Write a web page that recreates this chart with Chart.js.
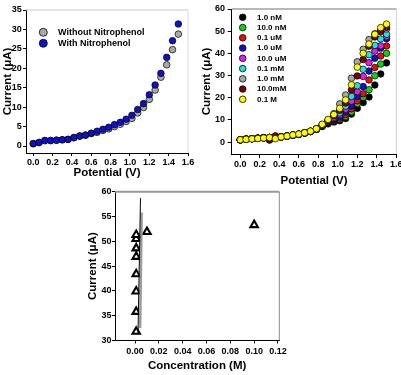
<!DOCTYPE html>
<html>
<head>
<meta charset="utf-8">
<script src="https://cdn.jsdelivr.net/npm/chart.js@4.4.1/dist/chart.umd.min.js"></script>
<style>
html, body { margin: 0; padding: 0; background: #fff; }
body { width: 401px; height: 375px; position: relative; overflow: hidden; }
canvas { position: absolute; }
</style>
</head>
<body>
<canvas id="chartPotential" width="200" height="185" style="left:0px;top:0px;width:200px;height:185px"></canvas>
<canvas id="chartConcCurves" width="201" height="190" style="left:200px;top:0px;width:201px;height:190px"></canvas>
<canvas id="chartCalibration" width="230" height="190" style="left:85px;top:185px;width:230px;height:190px"></canvas>
<script>
// ---- data ----
var potential = [0.00, 0.06, 0.12, 0.18, 0.24, 0.30, 0.36, 0.42, 0.48, 0.54, 0.60, 0.66, 0.72,
                 0.78, 0.84, 0.90, 0.96, 1.02, 1.08, 1.14, 1.20, 1.26, 1.32, 1.38, 1.44, 1.50];

var withoutNitrophenol = [0.6, 0.9, 1.4, 1.4, 1.5, 1.6, 1.7, 2.1, 2.5, 2.8, 3.2, 3.5, 4.0,
                          4.4, 5.0, 5.6, 6.3, 7.1, 8.5, 9.9, 12.0, 14.4, 17.7, 20.9, 24.8, 28.8];
var withNitrophenol = [0.6, 0.9, 1.4, 1.4, 1.5, 1.6, 1.7, 2.2, 2.6, 2.8, 3.3, 3.8, 4.3,
                       4.8, 5.5, 6.1, 6.9, 7.9, 9.4, 10.9, 13.2, 15.7, 18.7, 22.8, 27.1, 31.4];

var concLabels = ['1.0 nM', '10.0 nM', '0.1 uM', '1.0 uM', '10.0 uM', '0.1 mM', '1.0 mM', '10.0mM', '0.1 M'];
var concColors = ['#000000', '#10d010', '#e01010', '#1010c8', '#e020e0', '#20e0e0', '#a8a8a8', '#800000', '#ffff00'];

var cur_1nM   = [1.0, 1.3, 1.5, 1.7, 1.9, 2.0, 2.0, 2.3, 2.7, 3.1, 3.5, 4.1, 4.8, 5.8,
                 7.0, 8.2, 9.0, 9.6, 10.6, 12.6, 15.2, 17.8, 20.3, 25.7, 30.7, 35.7];
var cur_10nM  = [1.0, 1.3, 1.5, 1.7, 1.9, 2.0, 2.0, 2.3, 2.7, 3.1, 3.5, 4.1, 4.8, 5.8,
                 7.2, 8.6, 9.6, 10.3, 11.5, 13.6, 17.3, 20.2, 23.6, 29.9, 35.2, 40.0];
var cur_01uM  = [1.0, 1.3, 1.5, 1.7, 1.9, 0.9, 2.0, 2.3, 2.7, 3.1, 3.5, 4.1, 4.8, 5.8,
                 7.3, 8.8, 9.9, 10.9, 12.4, 15.0, 18.6, 21.8, 28.0, 33.6, 38.8, 43.3];
var cur_1uM   = [1.0, 1.3, 1.5, 1.7, 1.9, 2.0, 2.0, 2.3, 2.7, 3.1, 3.5, 4.1, 4.8, 5.8,
                 7.4, 9.0, 10.3, 11.6, 13.6, 16.3, 20.6, 25.0, 32.0, 37.8, 42.3, 46.6];
var cur_10uM  = [1.0, 1.3, 1.5, 1.7, 1.9, 2.0, 2.0, 2.3, 2.7, 3.1, 3.5, 4.1, 4.8, 5.8,
                 7.5, 9.2, 10.7, 12.4, 14.8, 18.4, 22.7, 29.6, 35.8, 41.0, 43.4, 47.5];
var cur_01mM  = [1.0, 1.3, 1.5, 1.7, 1.9, 2.0, 2.0, 2.3, 2.7, 3.1, 3.5, 4.1, 4.8, 5.8,
                 7.6, 9.4, 11.2, 13.2, 16.2, 20.6, 25.4, 32.8, 39.4, 43.6, 46.5, 48.6];
var cur_1mM   = [1.0, 1.3, 1.5, 1.7, 1.9, 2.0, 2.0, 2.3, 2.7, 3.1, 3.5, 4.1, 4.8, 5.9,
                 7.9, 10.0, 12.8, 17.2, 21.2, 28.8, 36.2, 41.8, 46.2, 48.8, 50.2, 51.0];
var cur_10mM  = [1.0, 1.3, 1.5, 1.7, 1.9, 1.0, 2.8, 2.3, 2.7, 3.1, 3.5, 4.1, 4.8, 5.8,
                 7.7, 9.7, 11.8, 14.3, 17.6, 23.5, 29.8, 37.2, 43.2, 47.4, 49.8, 51.8];
var cur_01M   = [1.0, 1.2, 1.4, 1.6, 1.8, 2.0, 1.5, 2.3, 2.7, 3.2, 3.6, 4.2, 4.9, 6.0,
                 8.0, 10.2, 12.4, 15.2, 19.0, 25.8, 33.8, 40.0, 44.2, 48.6, 51.6, 53.2];
var concCurves = [cur_1nM, cur_10nM, cur_01uM, cur_1uM, cur_10uM, cur_01mM, cur_1mM, cur_10mM, cur_01M];

var concentration = [0.001, 0.001, 0.001, 0.001, 0.001, 0.001, 0.001, 0.001, 0.01, 0.1];
var peakCurrent   = [31.8, 35.8, 39.9, 43.4, 46.9, 48.6, 50.5, 51.3, 51.9, 53.3];
var fitLineX = [0.0046, 0.0025];
var fitLineY = [58.7, 31.2];
var shadeLineX = [0.0056, 0.0043];
var shadeLineY = [55.8, 32.5];

var potentialTicks = [0.0, 0.2, 0.4, 0.6, 0.8, 1.0, 1.2, 1.4, 1.6];
var currentTicksA = [0, 5, 10, 15, 20, 25, 30, 35];
var currentTicksB = [0, 10, 20, 30, 40, 50, 60];
var concTicks = [0.00, 0.02, 0.04, 0.06, 0.08, 0.10, 0.12];
var currentTicksC = [30, 35, 40, 45, 50, 55, 60];

// ---- helpers ----
Chart.defaults.font.family = "'Liberation Sans', Arial, sans-serif";
Chart.defaults.color = '#000';

function pairs(xs, ys) {
    return xs.map(function (x, i) { return { x: x, y: ys[i] }; });
}

function makeAxis(o) {
    return {
        type: 'linear',
        position: o.pos,
        min: o.min,
        max: o.max,
        afterBuildTicks: function (s) {
            s.ticks = o.ticks.map(function (v) { return { value: v }; });
        },
        afterFit: function (s) {
            if (o.pos === 'bottom') s.height = o.size; else s.width = o.size;
            s.paddingLeft = 0; s.paddingRight = 0; s.paddingTop = 0; s.paddingBottom = 0;
        },
        border: { display: true, color: '#000', width: 1 },
        grid: { drawOnChartArea: false, drawTicks: true, tickLength: o.tickLen, color: '#000' },
        ticks: {
            padding: o.tickPad,
            font: { size: 9, weight: 'bold' },
            maxRotation: 0,
            autoSkip: false,
            callback: function (v) { return o.dec ? Number(v).toFixed(o.dec) : String(v); }
        },
        title: {
            display: true,
            text: o.title,
            font: { size: 11.5, weight: 'bold' },
            padding: o.pos === 'bottom' ? { top: 0, bottom: o.titlePad } : { top: o.titlePad, bottom: 0 }
        }
    };
}

var framePlugin = {
    id: 'frame',
    beforeDatasetsDraw: function (chart, args, o) {
        var a = chart.chartArea, ctx = chart.ctx;
        ctx.save();
        ctx.strokeStyle = o.topColor;
        ctx.lineWidth = o.topWidth;
        ctx.beginPath();
        ctx.moveTo(a.left, a.top);
        ctx.lineTo(a.right, a.top);
        ctx.stroke();
        ctx.strokeStyle = o.rightColor;
        ctx.lineWidth = o.rightWidth;
        ctx.beginPath();
        ctx.moveTo(a.right, a.top);
        ctx.lineTo(a.right, a.bottom);
        ctx.stroke();
        ctx.restore();
    }
};

var insideLegend = {
    id: 'insideLegend',
    afterDraw: function (chart, args, o) {
        if (!o.show) return;
        var ctx = chart.ctx;
        ctx.save();
        ctx.font = o.font;
        ctx.textBaseline = 'middle';
        chart.data.datasets.forEach(function (ds, i) {
            var y = o.y + i * o.step;
            ctx.beginPath();
            ctx.arc(o.markX, y, o.r, 0, Math.PI * 2);
            ctx.fillStyle = ds.backgroundColor;
            ctx.fill();
            ctx.lineWidth = 0.8;
            ctx.strokeStyle = '#000';
            ctx.stroke();
            ctx.fillStyle = '#000';
            ctx.fillText(ds.label, o.textX, y);
        });
        ctx.restore();
    }
};

// ---- chart 1: with / without nitrophenol ----
new Chart(document.getElementById('chartPotential'), {
    type: 'scatter',
    data: {
        datasets: [
            { label: 'Without Nitrophenol', data: pairs(potential, withoutNitrophenol), order: 1,
              backgroundColor: '#a9a9a9', borderColor: '#000', borderWidth: 0.7, pointRadius: 3.3 },
            { label: 'With Nitrophenol', data: pairs(potential, withNitrophenol), order: 0,
              backgroundColor: '#1010c8', borderColor: '#000', borderWidth: 0.7, pointRadius: 3.3 }
        ]
    },
    options: {
        animation: false, responsive: false, devicePixelRatio: 1,
        layout: { padding: { left: 0, top: 10, right: 12, bottom: 0 } },
        plugins: {
            legend: { display: false }, tooltip: { enabled: false },
            frame: { topColor: '#c8c8c8', topWidth: 1, rightColor: '#d8d8d8', rightWidth: 1 },
            insideLegend: { show: true, font: "bold 9px 'Liberation Sans', Arial, sans-serif",
                            markX: 43.3, textX: 58, y: 32.3, step: 11, r: 4 }
        },
        scales: {
            x: makeAxis({ pos: 'bottom', min: -0.075, max: 1.6, ticks: potentialTicks, dec: 1, size: 32,
                          tickLen: 3, tickPad: 1.6, title: 'Potential (V)', titlePad: 5.1 }),
            y: makeAxis({ pos: 'left', min: -1.8, max: 35, ticks: currentTicksA, dec: 0, size: 26,
                          tickLen: 3, tickPad: 1.3, title: 'Current (\u03bcA)', titlePad: 1.1 })
        }
    },
    plugins: [framePlugin, insideLegend]
});

// ---- chart 2: concentration series ----
var concSets = concLabels.map(function (lab, i) {
    return { label: lab, data: pairs(potential, concCurves[i]), order: concLabels.length - 1 - i,
             backgroundColor: concColors[i], borderColor: '#000', borderWidth: 0.7, pointRadius: 3.3 };
});

new Chart(document.getElementById('chartConcCurves'), {
    type: 'scatter',
    data: { datasets: concSets },
    options: {
        animation: false, responsive: false, devicePixelRatio: 1,
        layout: { padding: { left: 0, top: 9, right: 4.3, bottom: 0 } },
        plugins: {
            legend: { display: false }, tooltip: { enabled: false },
            frame: { topColor: '#a0a0a0', topWidth: 1.5, rightColor: '#d0d0d0', rightWidth: 1 },
            insideLegend: { show: true, font: "bold 8px 'Liberation Sans', Arial, sans-serif",
                            markX: 42.7, textX: 57, y: 17.3, step: 10.25, r: 3.3 }
        },
        scales: {
            x: makeAxis({ pos: 'bottom', min: -0.088, max: 1.6, ticks: potentialTicks, dec: 1, size: 36,
                          tickLen: 4, tickPad: 1.6, title: 'Potential (V)', titlePad: 2.1 }),
            y: makeAxis({ pos: 'left', min: -5.4, max: 60, ticks: currentTicksB, dec: 0, size: 31.7,
                          tickLen: 4, tickPad: 2.7, title: 'Current (\u03bcA)', titlePad: 0.1 })
        }
    },
    plugins: [framePlugin, insideLegend]
});

// ---- chart 3: current vs concentration ----
new Chart(document.getElementById('chartCalibration'), {
    type: 'scatter',
    data: {
        datasets: [
            { label: 'shade', data: pairs(shadeLineX, shadeLineY), showLine: true, order: 1,
              borderColor: '#9a9a9a', borderWidth: 2.5, pointRadius: 0 },
            { label: 'fit', data: pairs(fitLineX, fitLineY), showLine: true, order: 0,
              borderColor: '#000', borderWidth: 1, pointRadius: 0 },
            { label: 'Current', data: pairs(concentration, peakCurrent), order: 2,
              pointStyle: 'triangle', pointRadius: 4.3, backgroundColor: '#fff',
              borderColor: '#000', borderWidth: 2.1 }
        ]
    },
    options: {
        animation: false, responsive: false, devicePixelRatio: 1,
        layout: { padding: { left: 0, top: 6.7, right: 35.7, bottom: 0 } },
        plugins: {
            legend: { display: false }, tooltip: { enabled: false },
            frame: { topColor: '#999999', topWidth: 2, rightColor: '#8a8a8a', rightWidth: 1 },
            insideLegend: { show: false }
        },
        scales: {
            x: makeAxis({ pos: 'bottom', min: -0.0168, max: 0.1211, ticks: concTicks, dec: 2, size: 34.5,
                          tickLen: 3, tickPad: 3.1, title: 'Concentration (M)', titlePad: 2.4 }),
            y: makeAxis({ pos: 'left', min: 30, max: 60, ticks: currentTicksC, dec: 0, size: 30,
                          tickLen: 3, tickPad: 0.5, title: 'Current (\u03bcA)', titlePad: 1.1 })
        }
    },
    plugins: [framePlugin, insideLegend]
});
</script>
</body>
</html>
